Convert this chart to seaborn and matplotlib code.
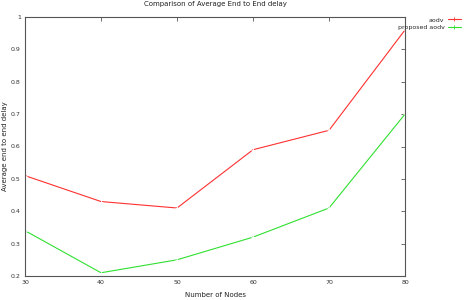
import pandas as pd
import matplotlib
matplotlib.use("Agg")
import matplotlib.pyplot as plt
from matplotlib.lines import Line2D
import seaborn as sns

# data
nodes = [30, 40, 50, 60, 70, 80]
aodv = [0.51, 0.43, 0.41, 0.59, 0.65, 0.96]
proposed_aodv = [0.34, 0.21, 0.25, 0.32, 0.41, 0.70]
series_names = ["aodv", "proposed aodv"]

df = pd.DataFrame({
    "nodes": nodes * 2,
    "delay": aodv + proposed_aodv,
    "series": [series_names[0]] * len(nodes) + [series_names[1]] * len(nodes),
})

sns.set_style("white")
plt.rcParams["font.family"] = ["DejaVu Sans"]

fig = plt.figure(figsize=(4.65, 3.0), dpi=100)
ax = fig.add_axes([25 / 465, 1 - 276 / 300, 380 / 465, 259 / 300])

palette = {"aodv": "#ff3030", "proposed aodv": "#30e030"}
sns.lineplot(data=df, x="nodes", y="delay", hue="series", palette=palette,
             marker="+", markersize=3, markeredgewidth=0.6, linewidth=0.8,
             ax=ax, legend=False)

ax.set_xlim(30, 80)
ax.set_ylim(0.2, 1.0)
ax.set_xticks(nodes)
ax.set_yticks([0.2, 0.3, 0.4, 0.5, 0.6, 0.7, 0.8, 0.9, 1.0])
ax.set_yticklabels(["0.2", "0.3", "0.4", "0.5", "0.6", "0.7", "0.8", "0.9", "1"])
ax.tick_params(direction="in", length=3, width=0.5, labelsize=4.5,
               top=True, right=True, colors="#333333", pad=3)
for s in ax.spines.values():
    s.set_color("#555555")
    s.set_linewidth(0.8)

ax.set_title("Comparison of Average End to End delay", fontsize=5, pad=8, color="#222222")
ax.set_xlabel("Number of Nodes", fontsize=5, labelpad=5, color="#222222")
ax.set_ylabel("Average end to end delay", fontsize=5, labelpad=2, color="#222222")

# legend outside to the right, gnuplot style
handles = [Line2D([], [], color=palette[n], linewidth=0.8, marker="+", markersize=3,
                  markeredgewidth=0.6) for n in series_names]
leg = fig.legend(handles, series_names, loc="upper right", bbox_to_anchor=(1.0, 0.955),
                 frameon=False, fontsize=4.5, markerfirst=False, handlelength=2.2,
                 labelspacing=0.4, handletextpad=0.5, borderaxespad=0.2)
for t in leg.get_texts():
    t.set_ha("right")

fig.savefig("out.png", dpi=100)
